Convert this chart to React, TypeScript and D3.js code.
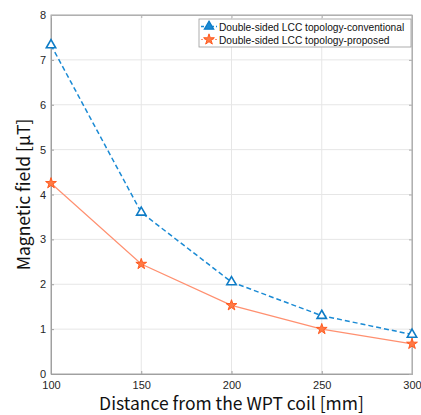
import React, { useEffect, useRef } from 'react';
import * as d3 from 'd3';

const distances = [100, 150, 200, 250, 300];
const conventional = [7.33, 3.6, 2.05, 1.3, 0.88];
const proposed = [4.25, 2.45, 1.53, 1.0, 0.67];
const xTicks = [100, 150, 200, 250, 300];
const yTicks = [0, 1, 2, 3, 4, 5, 6, 7, 8];
const seriesNames = ['Double-sided LCC topology-conventional', 'Double-sided LCC topology-proposed'];

const W = 421;
const H = 415;
const margin = { top: 15, right: 9, bottom: 41, left: 51 };

const App = () => {
    const ref = useRef<SVGSVGElement | null>(null);

    useEffect(() => {
        const svg = d3.select(ref.current);
        svg.selectAll('*').remove();

        const x = d3.scaleLinear().domain([100, 300]).range([margin.left, W - margin.right]);
        const y = d3.scaleLinear().domain([0, 8]).range([H - margin.bottom, margin.top]);
        const tickFont = 'Liberation Sans, Arial, sans-serif';

        // grid
        const grid = svg.append('g');
        xTicks.forEach(t => {
            grid.append('line').attr('x1', x(t)).attr('x2', x(t)).attr('y1', y(0)).attr('y2', y(8))
                .attr('stroke', '#e6e6e6').attr('stroke-width', 1);
        });
        yTicks.forEach(t => {
            grid.append('line').attr('x1', x(100)).attr('x2', x(300)).attr('y1', y(t)).attr('y2', y(t))
                .attr('stroke', '#e6e6e6').attr('stroke-width', 1);
        });

        // box
        svg.append('rect')
            .attr('x', x(100)).attr('y', y(8))
            .attr('width', x(300) - x(100)).attr('height', y(0) - y(8))
            .attr('fill', 'none').attr('stroke', '#b0b0b0').attr('stroke-width', 1);

        // axes with inward ticks
        const xAxis = d3.axisBottom(x).tickValues(xTicks).tickSize(-3).tickPadding(7).tickFormat(d3.format('d'));
        const yAxis = d3.axisLeft(y).tickValues(yTicks).tickSize(-3).tickPadding(5).tickFormat(d3.format('d'));
        const gx = svg.append('g').attr('transform', `translate(0,${y(0)})`).call(xAxis);
        const gy = svg.append('g').attr('transform', `translate(${x(100)},0)`).call(yAxis);
        [gx, gy].forEach(g => {
            g.select('.domain').attr('stroke', '#a0a0a0');
            g.selectAll('.tick line').attr('stroke', '#a0a0a0');
            g.selectAll('.tick text').attr('fill', '#262626').style('font-size', '11px').style('font-family', tickFont);
        });
        // top/right ticks
        const gTop = svg.append('g').attr('transform', `translate(0,${y(8)})`)
            .call(d3.axisTop(x).tickValues(xTicks).tickSize(-3).tickFormat(() => ''));
        const gRight = svg.append('g').attr('transform', `translate(${x(300)},0)`)
            .call(d3.axisRight(y).tickValues(yTicks).tickSize(-3).tickFormat(() => ''));
        [gTop, gRight].forEach(g => {
            g.select('.domain').attr('stroke', '#b0b0b0');
            g.selectAll('.tick line').attr('stroke', '#b0b0b0');
        });

        const line = d3.line<number>().x((d, i) => x(distances[i])).y(d => y(d));

        // proposed
        svg.append('path').datum(proposed).attr('d', line)
            .attr('fill', 'none').attr('stroke', '#ff9070').attr('stroke-width', 1.2);
        const star = d3.symbol().type(d3.symbolStar).size(36);
        svg.selectAll('.star').data(proposed).enter().append('path')
            .attr('transform', (d, i) => `translate(${x(distances[i])},${y(d)})`)
            .attr('d', star).attr('fill', '#ff7a45').attr('stroke', '#ff5a1f').attr('stroke-width', 1);

        // conventional
        svg.append('path').datum(conventional).attr('d', line)
            .attr('fill', 'none').attr('stroke', '#1a8ad4').attr('stroke-width', 1.5).attr('stroke-dasharray', '5,3');
        const tri = d3.symbol().type(d3.symbolTriangle).size(38);
        svg.selectAll('.tri').data(conventional).enter().append('path')
            .attr('transform', (d, i) => `translate(${x(distances[i])},${y(d)})`)
            .attr('d', tri).attr('fill', 'white').attr('stroke', '#0e7cc6').attr('stroke-width', 1.6);

        // legend
        const lg = svg.append('g').attr('transform', 'translate(199,19)');
        lg.append('rect').attr('width', 212).attr('height', 28)
            .attr('fill', 'white').attr('stroke', '#9a9a9a').attr('stroke-width', 0.8);
        lg.append('line').attr('x1', 2).attr('x2', 18).attr('y1', 7.5).attr('y2', 7.5)
            .attr('stroke', '#1a8ad4').attr('stroke-width', 1.5).attr('stroke-dasharray', '3,2');
        lg.append('path').attr('transform', 'translate(10,7.5)').attr('d', tri)
            .attr('fill', '#1a8ad4').attr('stroke', '#0e7cc6').attr('stroke-width', 1.2);
        lg.append('line').attr('x1', 2).attr('x2', 18).attr('y1', 20.5).attr('y2', 20.5)
            .attr('stroke', '#ff9070').attr('stroke-width', 1).attr('stroke-dasharray', '2,1.5');
        lg.append('path').attr('transform', 'translate(10,20.5)').attr('d', star)
            .attr('fill', '#ff7a45').attr('stroke', '#ff5a1f').attr('stroke-width', 1);
        seriesNames.forEach((name, i) => {
            lg.append('text').attr('x', 20).attr('y', 11.5 + i * 13).text(name)
                .style('font-family', tickFont).style('font-size', '10.2px').attr('fill', '#111');
        });

        // axis labels
        const labelFont = '"Noto Sans CJK KR", "Noto Sans", sans-serif';
        svg.append('text').attr('x', (x(100) + x(300)) / 2).attr('y', 410).attr('text-anchor', 'middle')
            .text('Distance from the WPT coil [mm]').style('font-family', labelFont).style('font-size', '17.5px').attr('fill', '#111');
        svg.append('text').attr('transform', `translate(30,${(y(0) + y(8)) / 2}) rotate(-90)`).attr('text-anchor', 'middle')
            .text('Magnetic field [μT]').style('font-family', labelFont).style('font-size', '17.5px').attr('fill', '#111');
    }, []);

    return (
        <div style={{ position: 'absolute', left: 0, top: 0 }}>
            <svg ref={ref} width={W} height={H} style={{ display: 'block', background: 'white' }} />
        </div>
    );
};

export default App;
